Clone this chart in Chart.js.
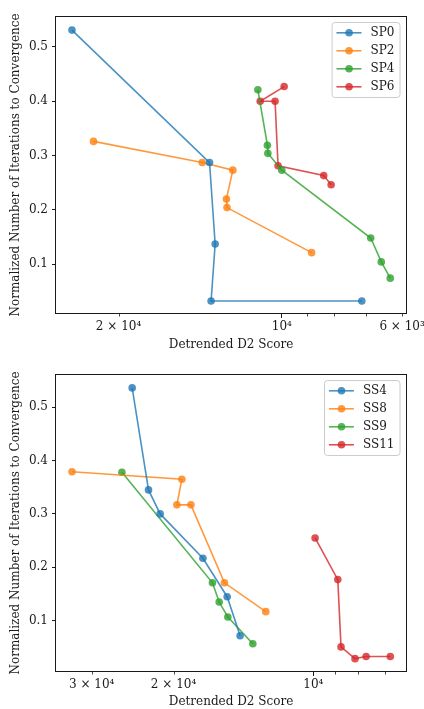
<!DOCTYPE html>
<html lang="en">
<head>
<meta charset="utf-8">
<title>Detrended D2 Score vs Iterations to Convergence</title>
<script src="https://cdn.jsdelivr.net/npm/chart.js"></script>
<style>
    body { margin: 0; background: #fff; }
    .panel { position: absolute; left: 0; width: 424px; }
    #top { top: 0; height: 355px; }
    #bottom { top: 355px; height: 354px; }
</style>
</head>
<body>
<div class="panel" id="top"><canvas id="spChart" width="424" height="355"></canvas></div>
<div class="panel" id="bottom"><canvas id="ssChart" width="424" height="354"></canvas></div>

<script>
    // top panel (SP series)
    const sp0X = [24370, 13590, 13270, 13500, 7120];
    const sp0Y = [0.531, 0.287, 0.137, 0.032, 0.032];
    const sp2X = [22240, 14020, 12310, 12650, 12620, 8810];
    const sp2Y = [0.326, 0.287, 0.273, 0.220, 0.204, 0.121];
    const sp4X = [11070, 10630, 10610, 10000, 6855, 6555, 6310];
    const sp4Y = [0.421, 0.319, 0.304, 0.273, 0.148, 0.104, 0.074];
    const sp6X = [9900, 10960, 10290, 10160, 8370, 8110];
    const sp6Y = [0.427, 0.400, 0.400, 0.281, 0.263, 0.246];

    // bottom panel (SS series)
    const ss4X = [24550, 22640, 21370, 17290, 15330, 14380];
    const ss4Y = [0.536, 0.345, 0.300, 0.217, 0.145, 0.072];
    const ss8X = [33080, 19190, 19670, 18350, 15540, 12660];
    const ss8Y = [0.379, 0.365, 0.317, 0.317, 0.171, 0.117];
    const ss9X = [25830, 16490, 15950, 15280, 13500];
    const ss9Y = [0.378, 0.171, 0.135, 0.107, 0.057];
    const ss11X = [9915, 8860, 8720, 8135, 7700, 6830];
    const ss11Y = [0.255, 0.177, 0.051, 0.029, 0.033, 0.033];

    // tick positions and labels
    const spTicks = [6000, 7000, 8000, 9000, 10000, 20000];
    const spTickLabels = ['6 × 10³', '', '', '', '10⁴', '2 × 10⁴'];
    const ssTicks = [7000, 8000, 9000, 10000, 20000, 30000];
    const ssTickLabels = ['', '', '', '10⁴', '2 × 10⁴', '3 × 10⁴'];
    const yTicks = [0.1, 0.2, 0.3, 0.4, 0.5];

    const colors = ['31,119,180', '255,127,14', '44,160,44', '214,39,40'];
    const FONT = '"DejaVu Serif", "Liberation Serif", serif';
    const FS = 12;
    const INK = '#1a1a1a';

    // box around the plot area
    const frame = {
        id: 'frame',
        afterDraw(chart) {
            const a = chart.chartArea, ctx = chart.ctx;
            ctx.save();
            ctx.strokeStyle = INK;
            ctx.lineWidth = 1;
            ctx.strokeRect(Math.round(a.left) - 0.5, Math.round(a.top) + 0.5,
                Math.round(a.right - a.left) + 1, Math.round(a.bottom - a.top) - 1);
            ctx.restore();
        }
    };

    // short ticks for minor values (not powers of ten)
    const minorTicks = {
        id: 'minorTicks',
        afterDraw(chart) {
            const xs = chart.scales.x, ctx = chart.ctx;
            ctx.save();
            ctx.strokeStyle = INK;
            ctx.lineWidth = 0.8;
            xs.ticks.forEach(t => {
                if (Math.log10(t.value) % 1 === 0) return;
                const px = Math.round(xs.getPixelForValue(t.value)) + 0.5;
                ctx.beginPath();
                ctx.moveTo(px, chart.chartArea.bottom);
                ctx.lineTo(px, chart.chartArea.bottom + 2.5);
                ctx.stroke();
            });
            ctx.restore();
        }
    };

    // matplotlib style legend inside the upper right corner
    const insideLegend = {
        id: 'insideLegend',
        afterDraw(chart) {
            const ctx = chart.ctx, a = chart.chartArea;
            const sets = chart.data.datasets;
            ctx.save();
            ctx.font = FS + 'px ' + FONT;
            const textW = Math.max(...sets.map(d => ctx.measureText(d.label).width));
            const w = 38.5 + textW + 5.5;
            const h = sets.length * 18 + 3;
            const right = a.right - 6;
            const left = right - w;
            const top = a.top + 6.5;
            ctx.beginPath();
            ctx.roundRect(left, top, w, h, 3);
            ctx.fillStyle = 'rgba(255,255,255,0.8)';
            ctx.fill();
            ctx.strokeStyle = '#cccccc';
            ctx.lineWidth = 1;
            ctx.stroke();
            sets.forEach((d, i) => {
                const cy = top + 10.3 + i * 18;
                ctx.strokeStyle = d.borderColor;
                ctx.lineWidth = 1.6;
                ctx.beginPath();
                ctx.moveTo(left + 4.4, cy);
                ctx.lineTo(left + 29.4, cy);
                ctx.stroke();
                ctx.fillStyle = d.backgroundColor;
                ctx.beginPath();
                ctx.arc(left + 17, cy, 3.8, 0, Math.PI * 2);
                ctx.fill();
                ctx.fillStyle = INK;
                ctx.textBaseline = 'middle';
                ctx.fillText(d.label, left + 38.5, cy + 0.5);
            });
            ctx.restore();
        }
    };

    function series(label, xs, ys, i) {
        return {
            label: label,
            data: xs.map((v, k) => ({x: v, y: ys[k]})),
            showLine: true,
            borderColor: 'rgba(' + colors[i] + ',0.8)',
            backgroundColor: 'rgba(' + colors[i] + ',0.8)',
            borderWidth: 1.6,
            pointRadius: 3.8,
            pointBorderWidth: 0,
            pointHoverRadius: 3.8
        };
    }

    function scatterPanel(id, datasets, xMin, xMax, xTicks, xLabels, yMin, yMax, padTop, xHeight, xTitlePad) {
        const ctx = document.getElementById(id).getContext('2d');
        return new Chart(ctx, {
            type: 'scatter',
            data: { datasets: datasets },
            options: {
                responsive: false,
                animation: false,
                layout: { padding: { top: padTop, right: 18, left: 0, bottom: 0 } },
                plugins: { legend: { display: false }, tooltip: { enabled: false } },
                scales: {
                    x: {
                        type: 'logarithmic',
                        reverse: true,
                        min: xMin,
                        max: xMax,
                        afterBuildTicks: s => { s.ticks = xTicks.map(v => ({value: v})); },
                        afterFit: s => { s.height = xHeight; s.paddingLeft = 0; s.paddingRight = 0; },
                        ticks: {
                            autoSkip: false,
                            maxRotation: 0,
                            padding: 2,
                            color: INK,
                            font: { family: FONT, size: FS },
                            callback: v => xLabels[xTicks.indexOf(v)]
                        },
                        grid: {
                            drawOnChartArea: false,
                            tickLength: 4,
                            tickColor: c => (c.tick && Math.log10(c.tick.value) % 1 === 0) ? INK : 'rgba(0,0,0,0)'
                        },
                        border: { display: false },
                        title: {
                            display: true,
                            text: 'Detrended D2 Score',
                            color: INK,
                            font: { family: FONT, size: FS },
                            padding: { top: 0, bottom: xTitlePad }
                        }
                    },
                    y: {
                        min: yMin,
                        max: yMax,
                        afterBuildTicks: s => { s.ticks = yTicks.map(v => ({value: v})); },
                        afterFit: s => { s.width = 56; s.paddingTop = 0; s.paddingBottom = 0; },
                        ticks: {
                            padding: 4,
                            color: INK,
                            font: { family: FONT, size: FS },
                            callback: v => v.toFixed(1)
                        },
                        grid: { drawOnChartArea: false, tickLength: 4, tickColor: INK },
                        border: { display: false },
                        title: {
                            display: true,
                            text: 'Normalized Number of Iterations to Convergence',
                            color: INK,
                            font: { family: FONT, size: FS },
                            padding: { top: 9, bottom: 0 }
                        }
                    }
                }
            },
            plugins: [frame, minorTicks, insideLegend]
        });
    }

    scatterPanel('spChart', [
        series('SP0', sp0X, sp0Y, 0),
        series('SP2', sp2X, sp2Y, 1),
        series('SP4', sp4X, sp4Y, 2),
        series('SP6', sp6X, sp6Y, 3)
    ], 5902, 26080, spTicks, spTickLabels, 0.008, 0.557, 16, 41, 3);

    scatterPanel('ssChart', [
        series('SS4', ss4X, ss4Y, 0),
        series('SS8', ss8X, ss8Y, 1),
        series('SS9', ss9X, ss9Y, 2),
        series('SS11', ss11X, ss11Y, 3)
    ], 6319, 35810, ssTicks, ssTickLabels, 0.004, 0.562, 19, 37, 0);
</script>
</body>
</html>
